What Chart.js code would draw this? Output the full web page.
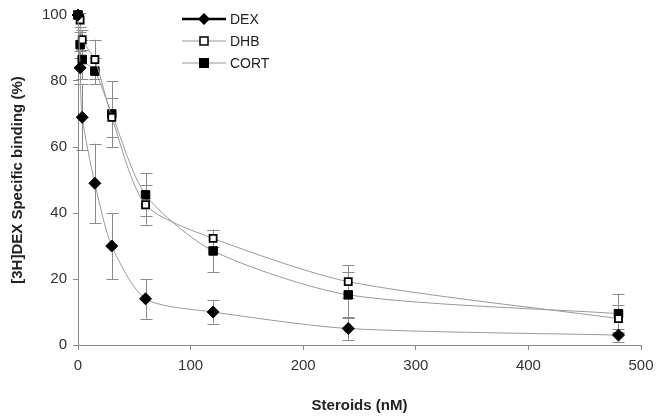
<!DOCTYPE html>
<html>
<head>
<meta charset="utf-8">
<script src="https://cdn.jsdelivr.net/npm/chart.js@4.4.0/dist/chart.umd.min.js"></script>
<style>
  html, body { margin: 0; padding: 0; background: #fff; }
  #wrap { width: 656px; height: 419px; }
</style>
</head>
<body>
<div id="wrap"><canvas id="chart1" width="656" height="419"></canvas></div>
<script>
// concentrations (nM)
const conc = [0, 1.875, 3.75, 15, 30, 60, 120, 240, 480];

// % specific binding
const dexVals  = [100, 84, 69, 49, 30, 14, 10, 5, 3];
const dhbVals  = [100, 98.5, 92.5, 86.5, 69, 42.5, 32.3, 19.2, 8];
const cortVals = [100, 91, 86.5, 83, 70, 45.5, 28.5, 15.2, 9.5];

// error bars (+/-)
const dexErr  = [0, 5, 10, 12, 10, 6, 3.5, 3.5, 2];
const dhbErr  = [0, 2, 3, 6, 6, 6, 2.5, 5, 4];
const cortErr = [0, 4, 6, 4, 10, 6.5, 6.5, 7, 6];

const yTicks = [0, 20, 40, 60, 80, 100];
const xTicks = [0, 100, 200, 300, 400, 500];

function pts(vals) {
    return conc.map((c, i) => ({ x: c, y: vals[i] }));
}

const errors = [dexErr, dhbErr, cortErr];

// error bars drawn under the markers
const errorBars = {
    id: 'errorBars',
    beforeDatasetsDraw(chart) {
        const ctx = chart.ctx;
        const xs = chart.scales.x, ys = chart.scales.y;
        ctx.save();
        ctx.strokeStyle = '#8a8a8a';
        ctx.lineWidth = 1;
        chart.data.datasets.forEach((ds, d) => {
            ds.data.forEach((p, i) => {
                const e = errors[d][i];
                if (!e) return;
                const px = Math.round(xs.getPixelForValue(p.x)) + 0.5;
                const top = ys.getPixelForValue(p.y + e);
                const bot = ys.getPixelForValue(p.y - e);
                ctx.beginPath();
                ctx.moveTo(px, top); ctx.lineTo(px, bot);
                ctx.moveTo(px - 6, Math.round(top) + 0.5); ctx.lineTo(px + 6, Math.round(top) + 0.5);
                ctx.moveTo(px - 6, Math.round(bot) + 0.5); ctx.lineTo(px + 6, Math.round(bot) + 0.5);
                ctx.stroke();
            });
        });
        ctx.restore();
    }
};

// Excel-like legend: line with marker, stacked
const lineLegend = {
    id: 'lineLegend',
    afterDraw(chart) {
        const ctx = chart.ctx;
        const x0 = chart.chartArea.left + 104;
        const items = [
            { label: 'DEX', color: '#000', width: 2.5, style: 'diamond', y: 19 },
            { label: 'DHB', color: '#999', width: 1, style: 'open', y: 41 },
            { label: 'CORT', color: '#999', width: 1, style: 'square', y: 63 }
        ];
        ctx.save();
        items.forEach(it => {
            ctx.strokeStyle = it.color;
            ctx.lineWidth = it.width;
            ctx.beginPath();
            ctx.moveTo(x0, it.y); ctx.lineTo(x0 + 44, it.y);
            ctx.stroke();
            const mx = x0 + 22;
            ctx.lineWidth = 1.5;
            ctx.strokeStyle = '#000';
            if (it.style === 'diamond') {
                ctx.fillStyle = '#000';
                ctx.beginPath();
                ctx.moveTo(mx, it.y - 6); ctx.lineTo(mx + 6, it.y);
                ctx.lineTo(mx, it.y + 6); ctx.lineTo(mx - 6, it.y);
                ctx.closePath(); ctx.fill();
            } else if (it.style === 'open') {
                ctx.fillStyle = '#fff';
                ctx.fillRect(mx - 4, it.y - 4, 8, 8);
                ctx.strokeRect(mx - 4, it.y - 4, 8, 8);
            } else {
                ctx.fillStyle = '#000';
                ctx.fillRect(mx - 5, it.y - 5, 10, 10);
            }
            ctx.fillStyle = '#222';
            ctx.font = '14px "Liberation Sans", Arial, sans-serif';
            ctx.textBaseline = 'middle';
            ctx.fillText(it.label, x0 + 48, it.y + 1);
        });
        ctx.restore();
    }
};

const lineGray = '#999999';

const ctx = document.getElementById('chart1').getContext('2d');
const myChart = new Chart(ctx, {
    type: 'scatter',
    data: {
        datasets: [
            {
                label: 'DEX',
                data: pts(dexVals),
                showLine: true,
                clip: false,
                borderColor: lineGray,
                borderWidth: 1,
                tension: 0.25,
                pointStyle: 'rectRot',
                pointRadius: 6,
                pointBackgroundColor: '#000',
                pointBorderColor: '#000',
                pointBorderWidth: 1
            },
            {
                label: 'DHB',
                data: pts(dhbVals),
                showLine: true,
                clip: false,
                borderColor: lineGray,
                borderWidth: 1,
                tension: 0.25,
                pointStyle: 'rect',
                pointRadius: 5,
                pointBackgroundColor: '#fff',
                pointBorderColor: '#000',
                pointBorderWidth: 1.8
            },
            {
                label: 'CORT',
                data: pts(cortVals),
                showLine: true,
                clip: false,
                borderColor: lineGray,
                borderWidth: 1,
                tension: 0.25,
                pointStyle: 'rect',
                pointRadius: 6,
                pointBackgroundColor: '#000',
                pointBorderColor: '#000',
                pointBorderWidth: 1
            }
        ]
    },
    options: {
        responsive: false,
        animation: false,
        layout: { padding: { left: 0, top: 15, right: 0, bottom: 0 } },
        plugins: {
            legend: { display: false },
            tooltip: { enabled: false }
        },
        scales: {
            x: {
                type: 'linear',
                min: 0,
                max: 500,
                afterBuildTicks: s => { s.ticks = xTicks.map(v => ({ value: v })); },
                afterFit: s => { s.height = 74; s.paddingRight = 15; },
                border: { color: '#888', width: 1 },
                grid: { drawOnChartArea: false, drawTicks: true, tickLength: 5, color: '#888' },
                ticks: {
                    color: '#333',
                    padding: 7,
                    font: { family: '"Liberation Sans", Arial, sans-serif', size: 15 }
                },
                title: {
                    display: true,
                    text: 'Steroids (nM)',
                    color: '#222',
                    padding: { top: 12 },
                    font: { family: '"Liberation Sans", Arial, sans-serif', size: 15, weight: 'bold' }
                }
            },
            y: {
                min: 0,
                max: 100,
                afterBuildTicks: s => { s.ticks = yTicks.map(v => ({ value: v })); },
                afterFit: s => { s.width = 78; },
                border: { color: '#888', width: 1 },
                grid: { drawOnChartArea: false, drawTicks: true, tickLength: 5, color: '#888' },
                ticks: {
                    color: '#333',
                    padding: 6,
                    font: { family: '"Liberation Sans", Arial, sans-serif', size: 15 }
                },
                title: {
                    display: true,
                    text: '[3H]DEX Specific binding (%)',
                    color: '#222',
                    padding: { top: 9, bottom: 0 },
                    font: { family: '"Liberation Sans", Arial, sans-serif', size: 15, weight: 'bold' }
                }
            }
        }
    },
    plugins: [errorBars, lineLegend]
});
</script>
</body>
</html>
